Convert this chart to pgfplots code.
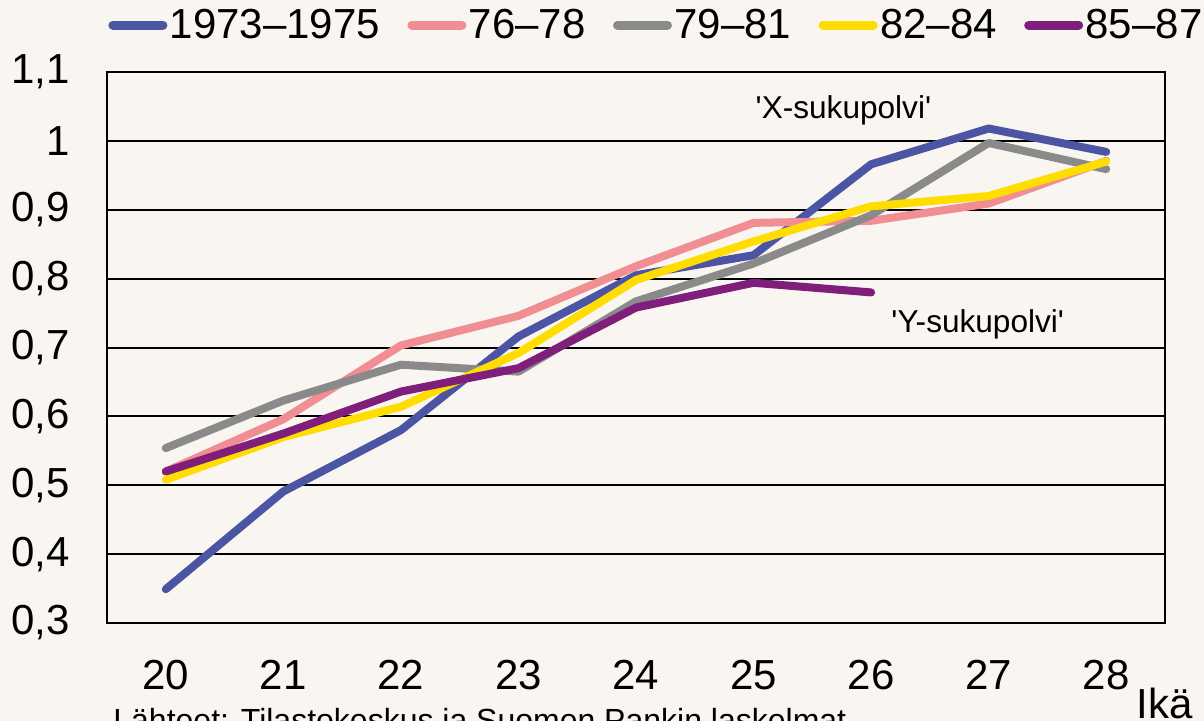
\documentclass[border=0pt]{standalone}
\usepackage{fontspec}
\setmainfont{Liberation Sans}
\font\annraw="Liberation Sans" at 15.8pt
\usepackage{pgfplots}
\pgfplotsset{compat=1.18}
\definecolor{bgc}{HTML}{F9F5F0}
\definecolor{cblue}{HTML}{4B55A3}
\definecolor{cpink}{HTML}{F08E94}
\definecolor{cgray}{HTML}{8A8A8A}
\definecolor{cyellow}{HTML}{FFDD00}
\definecolor{cpurple}{HTML}{7F1F7B}
\begin{document}
\begin{tikzpicture}
\fill[bgc] (0pt,0pt) rectangle (602pt,-360.5pt);
\begin{axis}[
  at={(53.5pt,-311.5pt)}, anchor=south west,
  width=529pt, height=275.5pt, scale only axis,
  xmin=19.5, xmax=28.5, ymin=0.3, ymax=1.1,
  xtick={20,...,28},
  ytick={0.3,0.4,0.5,0.6,0.7,0.8,0.9,1.0,1.1},
  ymajorgrids,
  major grid style={black, line width=1pt},
  axis line style={black, line width=1.3pt},
  major tick length=0pt,
  tick style={draw=none},
  /pgf/number format/assume math mode=true,
  /pgf/number format/use comma,
  /pgf/number format/fixed,
  /pgf/number format/precision=1,
  ticklabel style={font=\fontsize{21}{24}\selectfont, inner sep=0pt},
  yticklabel style={anchor=east, xshift=-18.5pt},
  xticklabel style={anchor=north, yshift=-18.5pt},
  legend columns=5,
  legend style={at={(0,1)}, anchor=west, xshift=0.5pt, yshift=23.5pt,
    draw=none, fill=none, inner sep=0pt,
    font=\fontsize{21}{24}\selectfont,
    nodes={inner sep=1.2pt},
    /tikz/every even column/.append style={column sep=12.5pt}},
  legend image code/.code={\draw[line width=4.5pt, line cap=round] (0pt,0pt) -- (25pt,0pt);},
  every axis plot/.append style={line width=4pt, line cap=round, line join=round},
  clip=false,
]
\addplot[cblue] coordinates {(20,0.349) (21,0.491) (22,0.580) (23,0.716) (24,0.805) (25,0.834) (26,0.966) (27,1.018) (28,0.984)};
\addlegendentry{1973–1975}
\addplot[cpink] coordinates {(20,0.520) (21,0.596) (22,0.703) (23,0.746) (24,0.818) (25,0.881) (26,0.884) (27,0.909) (28,0.971)};
\addlegendentry{76–78}
\addplot[cgray] coordinates {(20,0.554) (21,0.623) (22,0.675) (23,0.665) (24,0.767) (25,0.822) (26,0.892) (27,0.997) (28,0.959)};
\addlegendentry{79–81}
\addplot[cyellow] coordinates {(20,0.508) (21,0.570) (22,0.614) (23,0.692) (24,0.798) (25,0.854) (26,0.905) (27,0.920) (28,0.970)};
\addlegendentry{82–84}
\addplot[cpurple] coordinates {(20,0.520) (21,0.575) (22,0.636) (23,0.670) (24,0.758) (25,0.794) (26,0.780)};
\addlegendentry{85–87}
\node[anchor=west, inner sep=0pt] at (axis cs:25.015,1.045) {\annraw 'X-sukupolvi'};
\node[anchor=west, inner sep=0pt] at (axis cs:26.17,0.734) {\annraw 'Y-sukupolvi'};
\end{axis}
\node[anchor=base west, inner sep=0pt, font=\fontsize{21}{24}\selectfont] at (568pt,-359pt) {Ikä};
\node[anchor=base west, inner sep=0pt, font=\fontsize{16}{19}\selectfont] at (56.5pt,-365.5pt) {Lähteet: Tilastokeskus ja Suomen Pankin laskelmat};
\pgfresetboundingbox
\path[use as bounding box] (0pt,0pt) rectangle (602pt,-360.5pt);
\end{tikzpicture}
\end{document}
